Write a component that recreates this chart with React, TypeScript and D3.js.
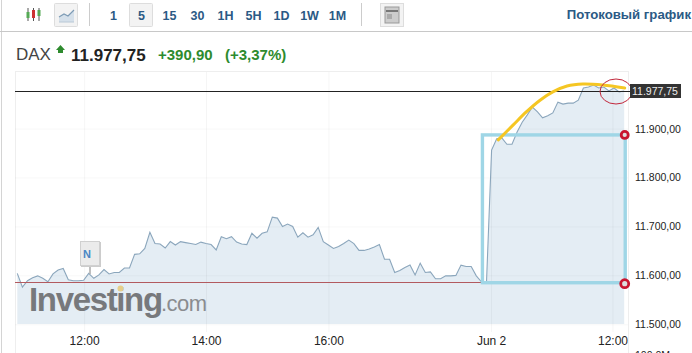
import React from "react";
import * as d3 from "d3";

const priceValues = [
  11605,11577,11590,11596,11600,11595,11588,11604,11612,11615,11592,11590,11590,11591,11605,11595,11602,11613,11604,11607,11607,11616,11616,11644,11645,11656,11689,11666,11665,11657,11670,11663,11670,11668,11666,11664,11669,11666,11664,11653,11680,11676,11680,11669,11665,11664,
  11687,11677,11687,11690,11720,11718,11701,11706,11701,11679,11688,11679,11684,11699,11670,11663,11656,11660,11666,11673,11666,11652,11652,11655,11659,11664,11634,11634,11607,11611,11617,11622,11602,11626,11607,11608,11594,11594,11600,11600,11601,11622,11619,11619,11600,11588,
  11587,11857,11880,11882,11869,11869,11894,11914,11929,11945,11935,11923,11927,11933,11955,11951,11953,11953,11959,11984,11986,11990,11984,11986,11978,11984,11976,11977.75,
];
const lastPrice = 11977.75;
const prevClose = 11586.85;
const yTicks = [11900, 11800, 11700, 11600, 11500];
const yTickLabels = ["11.900,00", "11.800,00", "11.700,00", "11.600,00", "11.500,00"];
const xTickIndex = [13.2, 37.1, 61.1, 93, 116.8];
const xTickLabels = ["12:00", "14:00", "16:00", "Jun 2", "12:00"];
const intervals = ["1", "5", "15", "30", "1H", "5H", "1D", "1W", "1M"];
const trendIndex = [94.3, 97.2, 99.8, 102.5, 105, 107.8, 110.9, 114.8, 119.1];
const trendValue = [11878, 11908, 11935, 11959, 11976, 11988, 11992, 11990, 11984];
const boxIndex = [91.2, 119.2];
const boxValue = [11888, 11586];

const x = d3.scaleLinear().domain([0, 119]).range([17.3, 624.2]);
const y = d3.scaleLinear().domain([lastPrice, prevClose]).range([91, 282.3]);
const yBottom = 324;

const line = d3.line<number>().x((_, i) => x(i)).y((d) => y(d));
const area = d3.area<number>().x((_, i) => x(i)).y0(yBottom).y1((d) => y(d));
const trend = d3.line<number>().x((_, i) => x(trendIndex[i])).y((d) => y(d)).curve(d3.curveCatmullRom);

const font = "'Liberation Sans', Arial, sans-serif";
const blue = "#2b5a85";

export default function App() {
  const bx0 = x(boxIndex[0]), bx1 = x(boxIndex[1]), by0 = y(boxValue[0]), by1 = y(boxValue[1]);
  return (
    <svg width={692} height={353} style={{ position: "absolute", left: 0, top: 0, background: "#fff" }} fontFamily={font}>
      {/* toolbar */}
      <line x1={1.5} x2={1.5} y1={0} y2={353} stroke="#d4d4d4" />
      <line x1={0} x2={692} y1={31.5} y2={31.5} stroke="#c8c8c8" />
      <g>
        {[28, 33.5, 39].map((cx, i) => (
          <g key={i}>
            <line x1={cx} x2={cx} y1={8} y2={21} stroke="#555" />
            <rect x={cx - 1.5} y={i === 1 ? 10 : i === 0 ? 12 : 10} width={3} height={i === 1 ? 8 : 6} fill={i === 1 ? "#c33" : "#5a5"} />
          </g>
        ))}
        <rect x={54.5} y={3.5} width={23} height={23} rx={1} fill="#f3f3f3" stroke="#ddd" />
        <path d="M59,17 L64,14 L68,16 L74,10 L74,22 L59,22 Z" fill="#d5e0ea" />
        <path d="M59,17 L64,14 L68,16 L74,10" fill="none" stroke="#7d9bb5" strokeWidth={1.2} />
        <line x1={59} x2={74} y1={22} y2={22} stroke="#b8c8d6" />
        <line x1={89.5} x2={89.5} y1={3} y2={26} stroke="#ccc" />
        <rect x={129.5} y={3.5} width={23} height={23} rx={1} fill="#f3f3f3" stroke="#ddd" />
        {intervals.map((t, i) => (
          <text key={t} x={113.5 + i * 28} y={20} textAnchor="middle" fontSize={12.5} fontWeight={700} fill={blue}>{t}</text>
        ))}
        <line x1={361.5} x2={361.5} y1={3} y2={26} stroke="#ccc" />
        <rect x={380.5} y={3.5} width={23} height={23} fill="#f3f3f3" stroke="#ddd" />
        <rect x={385} y={7} width={14} height={16} fill="#ccc" stroke="#999" />
        <rect x={386} y={10} width={12} height={2} fill="#777" />
        <rect x={387} y={14} width={5} height={5} fill="#aaa" />
        <text x={691} y={19} textAnchor="end" fontSize={13.2} fontWeight={700} fill={blue}>Потоковый график</text>
      </g>

      {/* heading */}
      <text x={16} y={60} fontSize={17} fill="#444">DAX</text>
      <path d="M60.5,45 L65,50 L63,50 L63,53 L58,53 L58,50 L56,50 Z" fill="#2e8b2e" />
      <text x={71} y={60.5} fontSize={17} fontWeight={700} fill="#222">11.977,75</text>
      <text x={158} y={60} fontSize={15} fontWeight={700} fill="#2e8b2e">+390,90</text>
      <text x={225} y={60} fontSize={15} fontWeight={700} fill="#2e8b2e">(+3,37%)</text>

      {/* plot frame */}
      <line x1={15} x2={628} y1={71.5} y2={71.5} stroke="#eee" />
      <line x1={15.5} x2={15.5} y1={71} y2={353} stroke="#eee" />
      <line x1={628.5} x2={628.5} y1={71} y2={353} stroke="#eee" />

      {/* area + grid */}
      <path d={area(priceValues) ?? ""} fill="#e4edf4" />
      {xTickIndex.map((t, i) => (
        <line key={i} x1={x(t)} x2={x(t)} y1={72} y2={yBottom + 8} stroke="#000" strokeOpacity={0.04} />
      ))}
      {yTicks.map((t) => (
        <line key={t} x1={15} x2={628} y1={y(t)} y2={y(t)} stroke="#000" strokeOpacity={0.03} />
      ))}

      {/* watermark */}
      <text x={29} y={311} fontSize={33} fontWeight={700} fill="#77797c" letterSpacing={-1.35}>Investing</text>
      <text x={161} y={311} fontSize={22} fill="#8a8c8f" letterSpacing={-0.5}>.com</text>
      <circle cx={120.5} cy={288.5} r={3} fill="#e6cf8a" />

      <path d={line(priceValues) ?? ""} fill="none" stroke="#8ba6bc" strokeWidth={1.1} />

      <line x1={15} x2={628} y1={282.5} y2={282.5} stroke="#b25a5f" strokeWidth={1} />
      <line x1={15} x2={630} y1={91.5} y2={91.5} stroke="#222" strokeWidth={1} />

      {/* news marker */}
      <line x1={90} x2={90} y1={266} y2={274} stroke="#aaa" strokeWidth={1.5} />
      <rect x={81} y={242} width={20} height={25} fill="#ccc" />
      <rect x={80.5} y={241.5} width={19} height={24} fill="#ebebeb" stroke="#d0d0d0" />
      <text x={87} y={258} textAnchor="middle" fontSize={11} fontWeight={700} fill="#4a86c5">N</text>

      {/* annotations */}
      <rect x={bx0} y={by0} width={bx1 - bx0} height={by1 - by0} fill="none" stroke="#9fd6e6" strokeWidth={3.4} />
      <path d={trend(trendValue) ?? ""} fill="none" stroke="#f5c623" strokeWidth={3} strokeLinecap="round" />
      <ellipse cx={616} cy={91.5} rx={16} ry={12.5} fill="none" stroke="#c2283c" strokeWidth={1} />
      <circle cx={bx1 - 0.5} cy={by0} r={3.5} fill="#ddd" stroke="#c9152f" strokeWidth={2.8} />
      <circle cx={bx1 - 0.5} cy={by1 + 1} r={4} fill="#ddd" stroke="#c9152f" strokeWidth={2.8} />

      {/* axes */}
      {yTicks.map((t, i) => (
        <text key={t} x={635} y={y(t) + 3.5} fontSize={10.5} fill="#222">{yTickLabels[i]}</text>
      ))}
      <rect x={630} y={84} width={51} height={14} fill="#333" />
      <text x={632} y={95} fontSize={10.5} fill="#eee">11.977,75</text>
      {xTickIndex.map((t, i) => (
        <text key={i} x={x(t)} y={345} textAnchor="middle" fontSize={12} fill="#222">{xTickLabels[i]}</text>
      ))}
      <text x={635} y={359} fontSize={10.5} fill="#222">100,0M</text>
    </svg>
  );
}
